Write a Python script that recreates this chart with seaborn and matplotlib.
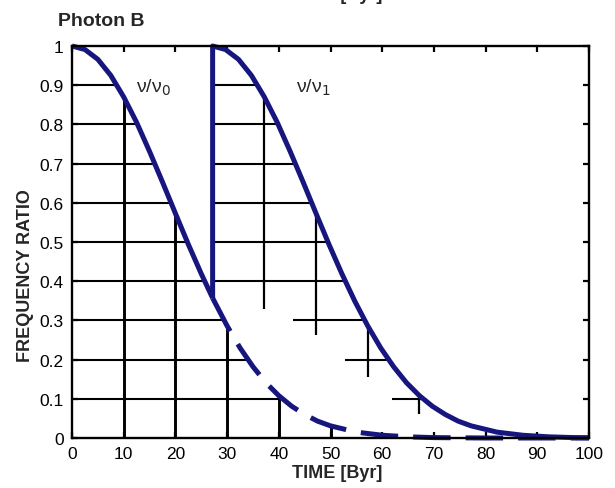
import matplotlib
matplotlib.use("Agg")
import matplotlib.pyplot as plt
import numpy as np
import pandas as pd
import seaborn as sns

# ---------------- data ----------------
# nu/nu0 : solid part (0 .. 27.2 Byr)
time_v0 = [0, 2.5, 5, 7.5, 10, 12.5, 15, 17.5, 20, 22.5, 25, 27.2]
ratio_v0 = [1.0, 0.991, 0.966, 0.925, 0.870, 0.805, 0.731, 0.653, 0.573,
            0.494, 0.419, 0.357]
# nu/nu0 : dashed continuation
time_v0_ext = [27.2, 30, 32.5, 35, 37.5, 40, 42.5, 45, 47.5, 50, 55, 60, 65,
               70, 80, 90, 100]
ratio_v0_ext = [0.357, 0.286, 0.230, 0.182, 0.141, 0.108, 0.081, 0.060,
                0.043, 0.031, 0.015, 0.007, 0.003, 0.001, 0.0, 0.0, 0.0]
# nu/nu1 : jump at 27.2 Byr then decay
time_v1 = [27.2, 27.2, 29.7, 32.2, 34.7, 37.2, 39.7, 42.2, 44.7, 47.2, 49.7,
           52.2, 54.7, 57.2, 59.7, 62.2, 64.7, 67.2, 69.7, 72.2, 74.7, 77.2,
           82.2, 87.2, 92.2, 97.2, 100]
ratio_v1 = [0.357, 1.0, 0.991, 0.966, 0.925, 0.870, 0.805, 0.731, 0.653,
            0.573, 0.494, 0.419, 0.349, 0.286, 0.230, 0.182, 0.141, 0.108,
            0.081, 0.060, 0.043, 0.031, 0.015, 0.007, 0.003, 0.001, 0.0006]

# grid segments under the nu/nu0 curve
grid_v_x = [10, 20, 30, 40, 50]
grid_v_top = [0.870, 0.573, 0.286, 0.108, 0.031]
grid_h_y = [0.1, 0.2, 0.3, 0.4, 0.5, 0.6, 0.7, 0.8, 0.9]
grid_h_end = [40.7, 34.0, 29.4, 25.7, 22.3, 19.2, 16.0, 12.7, 8.7]
# grid segments under the nu/nu1 curve
grid2_v_x = [37.2, 47.2, 57.2, 67.2]
grid2_v_bottom = [0.33, 0.262, 0.155, 0.06]
grid2_v_top = [0.870, 0.573, 0.286, 0.108]
grid2_h_y = [0.1, 0.2, 0.3, 0.4, 0.5, 0.6, 0.7, 0.8, 0.9]
grid2_h_start = [61.9, 52.8, 42.8, 27.2, 27.2, 27.2, 27.2, 27.2, 27.2]
grid2_h_end = [67.9, 61.2, 56.6, 52.9, 49.5, 46.4, 43.2, 39.9, 35.9]

x_ticks = [0, 10, 20, 30, 40, 50, 60, 70, 80, 90, 100]
x_tick_labels = ["0", "10", "20", "30", "40", "50", "60", "70", "80", "90", "100"]
y_ticks = [0, 0.1, 0.2, 0.3, 0.4, 0.5, 0.6, 0.7, 0.8, 0.9, 1]
y_tick_labels = ["0", "0.1", "0.2", "0.3", "0.4", "0.5", "0.6", "0.7", "0.8", "0.9", "1"]

# ---------------- style ----------------
sns.set_style("ticks")
plt.rcParams["font.family"] = ["Liberation Sans", "DejaVu Sans"]

NAVY = "#16167e"

fig = plt.figure(figsize=(6.15, 4.89), dpi=100)
ax = fig.add_axes([72 / 615, 50 / 489, 517 / 615, 392 / 489])

# grid segments
ax.vlines(grid_v_x, 0, grid_v_top, colors="black", linewidth=2.1, zorder=2)
ax.hlines(grid_h_y, 0, grid_h_end, colors="black", linewidth=1.5, zorder=2)
ax.vlines(grid2_v_x, grid2_v_bottom, grid2_v_top, colors="black",
          linewidth=1.6, zorder=2)
ax.hlines(grid2_h_y, grid2_h_start, grid2_h_end, colors="black",
          linewidth=1.5, zorder=2)

df0 = pd.DataFrame({"t": time_v0, "r": ratio_v0})
df0e = pd.DataFrame({"t": time_v0_ext, "r": ratio_v0_ext})
df1 = pd.DataFrame({"t": time_v1, "r": ratio_v1})

sns.lineplot(data=df0e, x="t", y="r", ax=ax, color=NAVY, linewidth=3.6,
             estimator=None, sort=False, zorder=3)
ax.lines[-1].set_dashes((7.5, 3.0))
sns.lineplot(data=df0, x="t", y="r", ax=ax, color=NAVY, linewidth=3.6,
             estimator=None, sort=False, zorder=4)
sns.lineplot(data=df1, x="t", y="r", ax=ax, color=NAVY, linewidth=3.6,
             estimator=None, sort=False, zorder=4)
for ln in ax.lines:
    ln.set_clip_on(False)
    ln.set_solid_capstyle("butt")
    ln.set_dash_capstyle("butt")

ax.text(12.4, 0.895, r"ν/ν$_0$", fontsize=14, va="center", ha="left",
        family=["Liberation Sans", "DejaVu Sans"])
ax.text(43.4, 0.895, r"ν/ν$_1$", fontsize=14, va="center", ha="left",
        family=["Liberation Sans", "DejaVu Sans"])

ax.set_xlim(0, 100)
ax.set_ylim(0, 1)
ax.set_xticks(x_ticks)
ax.set_xticklabels(x_tick_labels)
ax.set_yticks(y_ticks)
ax.set_yticklabels(y_tick_labels)
ax.tick_params(direction="in", length=4, width=1.6, top=True, right=True,
               labelsize=12.5, pad=6, colors="black")

for sp in ax.spines.values():
    sp.set_visible(True)
    sp.set_linewidth(1.7)
    sp.set_color("black")
    sp.set_zorder(5)

ax.set_xlabel("TIME [Byr]", fontsize=13, fontweight="bold")
ax.xaxis.set_label_coords((337 - 72) / 517, -0.066)
ax.set_ylabel("FREQUENCY RATIO", fontsize=13, fontweight="bold", va="center")
ax.yaxis.set_label_coords(-0.09, 0.418)

fig.text(58 / 615, 1 - 21 / 489, "Photon B", fontsize=14, fontweight="bold",
         ha="left", va="center")
# cut-off label of the panel above
fig.text(337 / 615, 1 + 0.5 / 489, "TIME [Byr]", fontsize=13,
         fontweight="bold", ha="center", va="baseline")

fig.savefig("out.png", dpi=100)
